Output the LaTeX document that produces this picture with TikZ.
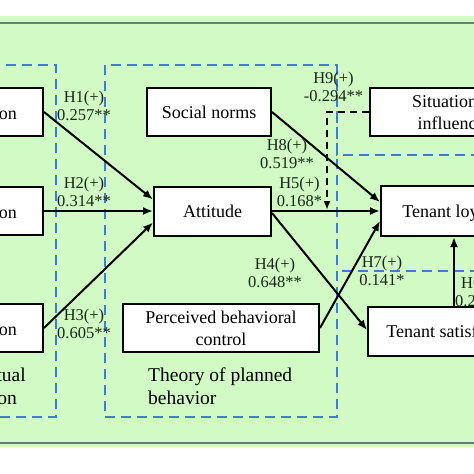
\documentclass[tikz,border=0pt]{standalone}
\usepackage{fontspec}
\setmainfont{Liberation Serif}
\usetikzlibrary{arrows.meta,calc}
\definecolor{bggreen}{HTML}{D2FAC4}
\definecolor{frameline}{HTML}{63806A}
\definecolor{dashblue}{HTML}{3F7BDB}
\definecolor{labeltext}{HTML}{142814}
\tikzset{
 box/.style={draw=black, line width=2pt, fill=white, inner sep=2pt, font=\fontsize{18}{22}\selectfont, align=center},
 boxtext/.style={font=\fontsize{18}{22}\selectfont, inner sep=0pt},
 hyp/.style={font=\fontsize{16.5}{18}\selectfont, align=center, inner sep=0pt, text=labeltext},
 conn/.style={line width=2pt, -{Latex[length=10pt,width=8pt]}},
 moder/.style={line width=2pt, dash pattern=on 7pt off 5pt, -{Latex[length=9pt,width=7pt]}},
 grp/.style={draw=dashblue, line width=1.8pt, dash pattern=on 10pt off 6pt},
 grplabel/.style={font=\fontsize{19.5}{23}\selectfont, inner sep=0pt}
}
\begin{document}
\begin{tikzpicture}[x=1pt,y=-1pt]
\useasboundingbox (0,0) rectangle (474,474);
\clip (0,0) rectangle (474,474);
\fill[white] (0,0) rectangle (474,474);
\fill[bggreen] (0,16) rectangle (474,447);
\draw[frameline, line width=1.3pt] (0,23) -- (474,23);
\draw[frameline, line width=1.3pt] (0,443) -- (474,443);
% dashed groups
\draw[grp] (-10,65) -- (56,65) -- (56,417) -- (-10,417);
\draw[grp] (105,65) rectangle (337,417);
\draw[grp] (337,65) -- (337,155) -- (480,155);
\draw[grp] (480,271) -- (337,271);
% group labels
\node[grplabel, anchor=base east] (gl1) at (26,381) {tual};
\node[grplabel, anchor=base east] (gl2) at (17,404) {on};
\node[grplabel, anchor=base west] (tp1) at (148,381) {Theory of planned};
\node[grplabel, anchor=base west] (tp2) at (148,404) {behavior};
% boxes
\node[box, minimum width=143pt, minimum height=48pt] (b1) at (-28.5,112) {};
\node[box, minimum width=143pt, minimum height=48pt] (b2) at (-28.5,211) {};
\node[box, minimum width=143pt, minimum height=48pt] (b3) at (-28.5,328) {};
\node[boxtext, anchor=base east] (t1) at (17,119) {on};
\node[boxtext, anchor=base east] (t2) at (17,218) {on};
\node[boxtext, anchor=base east] (t3) at (17,335) {on};
\node[box, minimum width=124pt, minimum height=48pt] (sn) at (209,112) {Social norms};
\node[box, minimum width=117pt, minimum height=49pt] (att) at (212.5,211) {Attitude};
\node[box, minimum width=196pt, minimum height=48pt] (pbc) at (221,328) {Perceived behavioral\\control};
\node[box, minimum width=162pt, minimum height=48pt] (si) at (451,112) {Situational\\influence};
\node[box, minimum width=146pt, minimum height=50pt, text depth=0pt] (tl) at (454,211) {Tenant loyalty};
\node[box, minimum width=172pt, minimum height=49pt] (ts) at (454,331.5) {Tenant satisfaction};
% connectors
\draw[conn] (b1.east) -- ($(att.west)+(0,-11.5)$);
\draw[conn] (b2.east) -- (att.west);
\draw[conn] (b3.east) -- ($(att.west)+(0,11.5)$);
\draw[conn] (sn.east) -- ($(tl.west)+(0,-9)$);
\draw[conn] (att.east) -- (tl.west);
\draw[conn] ($(att.east)+(0,2)$) -- ($(ts.west)+(0,-1.5)$);
\draw[conn] (pbc.east) -- ($(tl.west)+(0,10)$);
\draw[conn] (ts.north) -- (tl.south);
\coordinate (modpt) at (327,210);
\draw[moder] (si.west) -| (modpt);
% hypothesis labels
\node[hyp] (h1) at (84,106) {H1(+)\\0.257**};
\node[hyp] (h2) at (84,191.5) {H2(+)\\0.314**};
\node[hyp] (h3) at (84,323.5) {H3(+)\\0.605**};
\node[hyp] (h8) at (287,154) {H8(+)\\0.519**};
\node[hyp] (h5) at (299.5,191.5) {H5(+)\\0.168*};
\node[hyp] (h9) at (333.5,86.5) {H9(+)\\-0.294**};
\node[hyp] (h4) at (275,273) {H4(+)\\0.648**};
\node[hyp] (h7) at (382,271) {H7(+)\\0.141*};
\node[hyp, align=left, anchor=west] (h6) at (455,292) {\hspace*{6pt}H6(+)\\0.2};
\end{tikzpicture}
\end{document}
